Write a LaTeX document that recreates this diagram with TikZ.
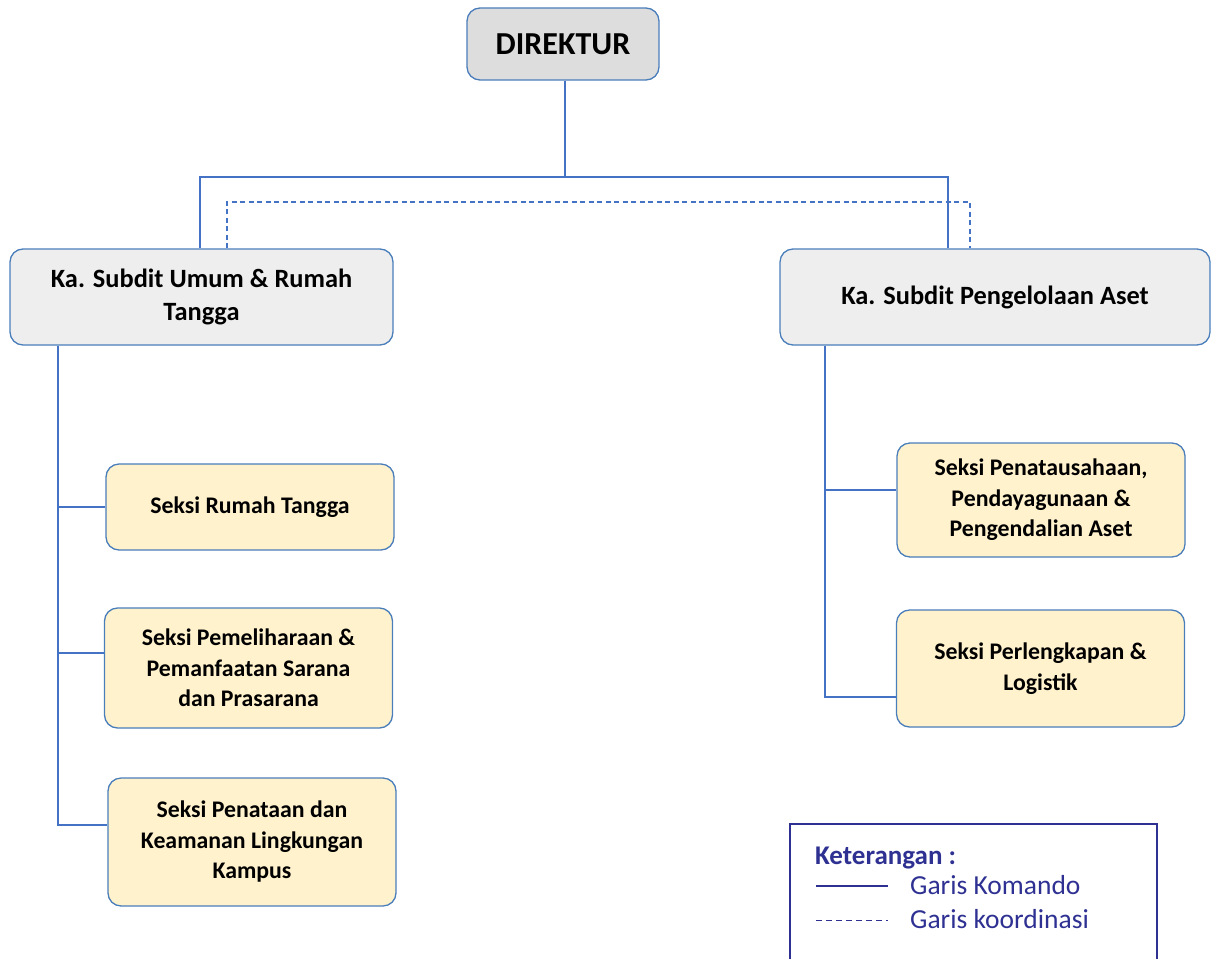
\documentclass[tikz,border=0pt]{standalone}
\usepackage{fontspec}
\setmainfont{Carlito}
\definecolor{edge}{HTML}{4A7EBB}
\definecolor{lineblue}{HTML}{4472C4}
\definecolor{dirfill}{HTML}{DDDDDD}
\definecolor{subfill}{HTML}{EEEEEE}
\definecolor{secfill}{HTML}{FFF2CC}
\definecolor{legblue}{HTML}{2E3192}
\begin{document}
\begin{tikzpicture}[x=1pt,y=-1pt,
  box/.style={draw=edge, line width=1.3pt, rounded corners=13pt, align=center, inner sep=4pt, font=\bfseries},
  dirbox/.style={box, fill=dirfill, minimum width=192pt, minimum height=72pt, font=\bfseries\fontsize{32}{36}\selectfont},
  subbox/.style={box, fill=subfill, minimum height=96pt, font=\bfseries\fontsize{26.4}{32.5}\selectfont},
  secbox/.style={box, fill=secfill, minimum width=288pt, font=\bfseries\fontsize{23.8}{30.5}\selectfont},
  cmd/.style={draw=lineblue, line width=1.2pt},
  coord/.style={draw=lineblue, line width=1.2pt, dash pattern=on 5pt off 3.5pt},
  legtext/.style={anchor=base west, inner sep=0pt, text=legblue, font=\fontsize{27.5}{30}\selectfont}
]
\useasboundingbox (0,0) rectangle (1214,958);

\node[dirbox] (dir) at (563,44) {DIREKTUR};
\node[subbox, minimum width=383pt] (sub1) at (201.5,297) {Ka. Subdit Umum \& Rumah\\Tangga};
\node[subbox, minimum width=430pt] (sub2) at (995,297) {Ka. Subdit Pengelolaan Aset};

\node[secbox, minimum height=86pt] (s1) at (250,507) {Seksi Rumah Tangga};
\node[secbox, minimum height=120pt] (s2) at (248.5,668) {Seksi Pemeliharaan \&\\Pemanfaatan Sarana\\dan Prasarana};
\node[secbox, minimum height=128pt] (s3) at (252,842) {Seksi Penataan dan\\Keamanan Lingkungan\\Kampus};
\node[secbox, minimum height=114pt] (r1) at (1041,500) {Seksi Penatausahaan,\\Pendayagunaan \&\\Pengendalian Aset};
\node[secbox, minimum height=117pt] (r2) at (1040.5,668.5) {Seksi Perlengkapan \&\\Logistik};

% command lines top
\coordinate (jc) at (565,177);
\coordinate (j1) at (200,177);
\coordinate (j2) at (948,177);
\draw[cmd] (dir.south -| jc) -- (jc);
\draw[cmd] (j1 |- sub1.north) -- (j1) -- (j2) -- (j2 |- sub2.north);

% coordination line
\coordinate (d1) at (227,202);
\coordinate (d2) at (970,202);
\draw[coord] (d1 |- sub1.north) -- (d1) -- (d2) -- (d2 |- sub2.north);

% left trunk
\coordinate (b1) at (58,507);
\coordinate (b2) at (58,653);
\coordinate (b3) at (58,825);
\draw[cmd] (b1 |- sub1.south) -- (b3) -- (b3 -| s3.west);
\draw[cmd] (b1) -- (b1 -| s1.west);
\draw[cmd] (b2) -- (b2 -| s2.west);

% right trunk
\coordinate (c1) at (825,490);
\coordinate (c2) at (825,697);
\draw[cmd] (c1 |- sub2.south) -- (c2) -- (c2 -| r2.west);
\draw[cmd] (c1) -- (c1 -| r1.west);

% legend
\coordinate (lg1) at (790,965);
\coordinate (lg2) at (790,824);
\coordinate (lg3) at (1157,824);
\coordinate (lg4) at (1157,965);
\draw[draw=legblue, line width=1.6pt] (lg1) -- (lg2) -- (lg3) -- (lg4);
\node[legtext, font=\bfseries\fontsize{27}{30}\selectfont] (ket) at (815,864) {Keterangan :};
\coordinate (ls1) at (816,886);
\coordinate (ls2) at (888,886);
\draw[draw=legblue, line width=1.3pt] (ls1) -- (ls2);
\node[legtext] (gk) at (910,894) {Garis Komando};
\coordinate (ld1) at (816,920);
\coordinate (ld2) at (888,920);
\draw[draw=legblue, line width=1pt, dash pattern=on 6pt off 4pt] (ld1) -- (ld2);
\node[legtext] (gko) at (910,928) {Garis koordinasi};
\end{tikzpicture}
\end{document}
